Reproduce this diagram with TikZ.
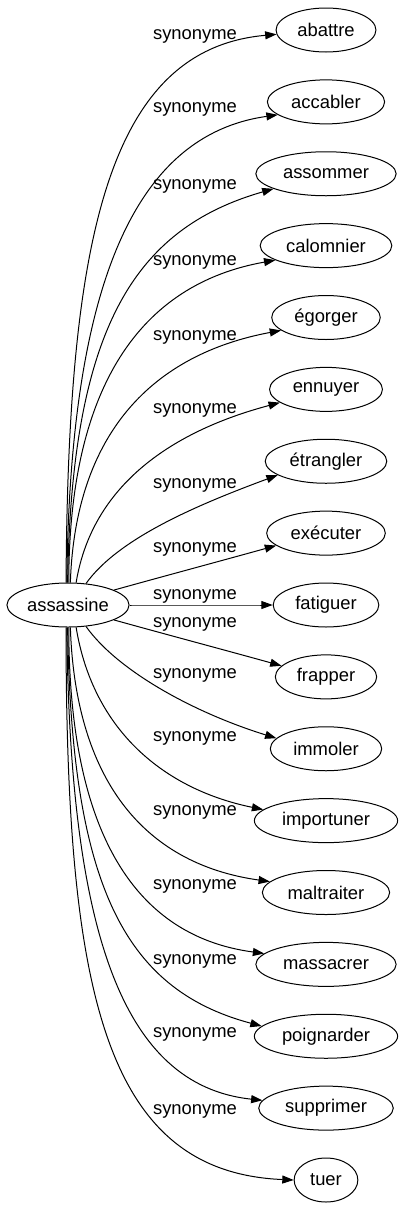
\documentclass[tikz,border=0pt]{standalone}
\usepackage{fontspec}
\setmainfont{Liberation Sans}
\usetikzlibrary{arrows.meta,shapes.geometric}

\begin{document}
\begin{tikzpicture}[x=0.75pt,y=0.75pt,
	every node/.style={font=\fontsize{13.8}{16}\selectfont},
	word/.style={draw,ellipse,line width=0.75pt,minimum height=33pt,inner xsep=5pt,inner ysep=2pt},
	syn/.style={line width=0.75pt,-{Triangle[length=8.5pt,width=6pt]}},
	lbl/.style={inner sep=0pt}]
	\useasboundingbox (0,0) rectangle (403,-1211);
	\node[word,inner xsep=1.7pt] (c) at (68,-605) {assassine};
	% les synonymes, de haut en bas
	\foreach \txt [count=\i from 0] in {abattre,accabler,assommer,calomnier,égorger,ennuyer,étrangler,exécuter,fatiguer,frapper,immoler,importuner,maltraiter,massacrer,poignarder,supprimer,tuer}
		\node[word] (n\i) at (326,{-30-71.875*\i}) {\txt};
	\foreach \ly [count=\i from 0] in {34,107,184,260,335,408,483,547,594,622,673,736,810,884,959,1032,1109}
		\node[lbl] (l\i) at (195,{-\ly-2}) {synonyme};
	% arcs : ancre de depart, ancre d'arrivee, points de controle
	\foreach \i/\sa/\ea/\ax/\ay/\bx/\by in {
		0/95/185/2/340/-170/-15,
		1/93/195/3/300/-142/-20,
		2/91/196/4/253/-140/-40,
		3/88/196/0/196/-135/-24,
		4/84/196/5/150/-128/-24,
		5/70/196/17/104/-98/-26,
		6/50/196/32/45/-81/-30,
		7/18/194/54/15/-54/-15,
		8/0/180/40/0/-40/0,
		9/342/166/54/-15/-54/15,
		10/310/168/32/-45/-81/25,
		11/290/170/17/-104/-98/20,
		12/276/169/5/-150/-128/18,
		13/272/170/0/-196/-135/18,
		14/269/171/4/-253/-140/37,
		15/267/173/3/-300/-142/15,
		16/265/180/0/-363/-190/8}
		\draw[syn] (c.\sa) .. controls +(\ax,\ay) and +(\bx,\by) .. (n\i.\ea);
\end{tikzpicture}
\end{document}
